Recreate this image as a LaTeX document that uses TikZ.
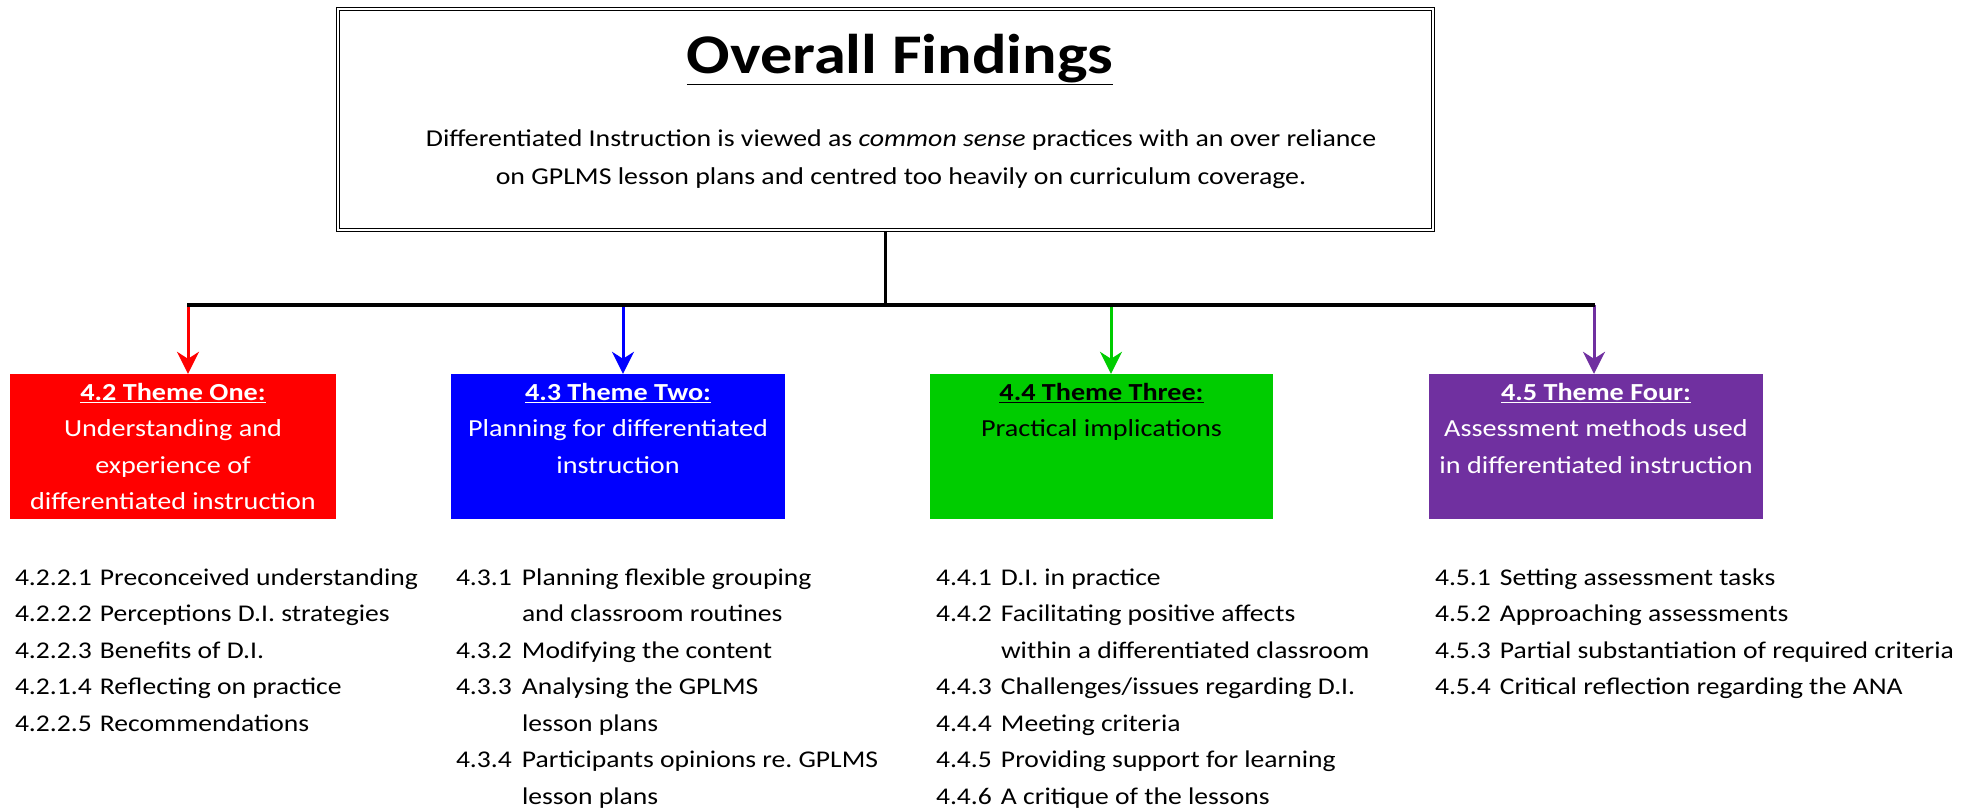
\documentclass[tikz,border=0pt]{standalone}
\usepackage{fontspec}
\setmainfont{Carlito}[FakeStretch=1.15]
\usepackage{tikz}
\usetikzlibrary{positioning}
\usetikzlibrary{arrows.meta}

\definecolor{themegreen}{RGB}{0,204,0}
\definecolor{themepurple}{RGB}{112,48,160}

\begin{document}
\begin{tikzpicture}[x=1pt,y=-1pt,>={Stealth[length=22pt,width=22pt,inset=7pt]},
	theme node/.style={rectangle,minimum width=334pt,minimum height=145pt,inner sep=0pt,
		align=center,font=\fontsize{24.5}{36.5}\selectfont,text=white,text depth=-6pt},
	list node/.style={inner sep=0pt,font=\fontsize{24}{36.5}\selectfont},
	branch/.style={->,line width=3pt}]

	\useasboundingbox (0,0) rectangle (1983,809);

	\node[draw,double,double distance=1.5pt,line width=1.6pt,minimum width=1095pt,minimum height=221pt] (top) at (885.5,119.5) {};
	\node[font=\fontsize{56}{60}\selectfont\bfseries,anchor=base] (title) at (900,73) {\underline{Overall Findings}};
	\node[font=\fontsize{24.2}{38}\selectfont,align=center,anchor=base] (summary) at (901,184)
		{Differentiated Instruction is viewed as \textit{common sense} practices with an over reliance\\
		on GPLMS lesson plans and centred too heavily on curriculum coverage.};

	\node[theme node,fill=red,minimum width=326pt] (one) at (173,446.5)
		{\textbf{\underline{4.2 Theme One:}}\\Understanding and\\experience of\\differentiated instruction};
	\node[theme node,fill=blue] (two) at (618,446.5)
		{\textbf{\underline{4.3 Theme Two:}}\\Planning for differentiated\\instruction\\~};
	\node[theme node,fill=themegreen,text=black,minimum width=343pt] (three) at (1101.5,446.5)
		{\textbf{\underline{4.4 Theme Three:}}\\Practical implications\\~\\~};
	\node[theme node,fill=themepurple] (four) at (1596,446.5)
		{\textbf{\underline{4.5 Theme Four:}}\\Assessment methods used\\in differentiated instruction\\~};

	\coordinate (bar west) at (187,305);
	\coordinate (bar east) at (1595,305);
	\coordinate (a1) at (188,305);
	\coordinate (a2) at (623,305);
	\coordinate (a3) at (1111,305);
	\coordinate (a4) at (1594,305);

	\draw[branch,red] (a1) -- (a1 |- one.north);
	\draw[branch,blue] (a2) -- (a2 |- two.north);
	\draw[branch,themegreen] (a3) -- (a3 |- three.north);
	\draw[branch,themepurple] (a4) -- (a4 |- four.north);
	\draw[line width=2.5pt] (top.south) -- (top.south |- bar west);
	\draw[line width=3.5pt] (bar west) -- (bar east);

	\node[list node,below right=40.5pt and 5pt of one.south west] (list1) {\begin{tabular}{@{}p{85pt}@{}l@{}}
		4.2.2.1 & Preconceived understanding\\
		4.2.2.2 & Perceptions D.I. strategies\\
		4.2.2.3 & Benefits of D.I.\\
		4.2.1.4 & Reflecting on practice\\
		4.2.2.5 & Recommendations
	\end{tabular}};
	\node[list node,below right=40.5pt and 5pt of two.south west] (list2) {\begin{tabular}{@{}p{66pt}@{}l@{}}
		4.3.1 & Planning flexible grouping\\
		 & and classroom routines\\
		4.3.2 & Modifying the content\\
		4.3.3 & Analysing the GPLMS\\
		 & lesson plans\\
		4.3.4 & Participants opinions re.\ GPLMS\\
		 & lesson plans
	\end{tabular}};
	\node[list node,below right=40.5pt and 6pt of three.south west] (list3) {\begin{tabular}{@{}p{65pt}@{}l@{}}
		4.4.1 & D.I. in practice\\
		4.4.2 & Facilitating positive affects\\
		 & within a differentiated classroom\\
		4.4.3 & Challenges/issues regarding D.I.\\
		4.4.4 & Meeting criteria\\
		4.4.5 & Providing support for learning\\
		4.4.6 & A critique of the lessons
	\end{tabular}};
	\node[list node,below right=40.5pt and 6pt of four.south west] (list4) {\begin{tabular}{@{}p{65pt}@{}l@{}}
		4.5.1 & Setting assessment tasks\\
		4.5.2 & Approaching assessments\\
		4.5.3 & Partial substantiation of required criteria\\
		4.5.4 & Critical reflection regarding the ANA
	\end{tabular}};
\end{tikzpicture}
\end{document}
